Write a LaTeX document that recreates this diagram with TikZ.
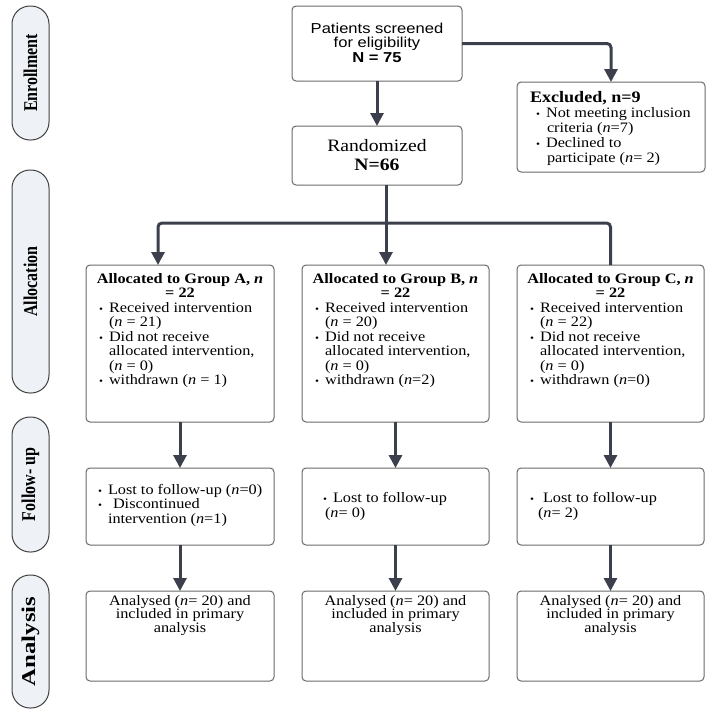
\documentclass[tikz,border=0pt]{standalone}
\usepackage{fontspec}
\setmainfont{Liberation Serif}[FakeStretch=1.13]
\newfontfamily\sansf{Liberation Sans}[FakeStretch=1.15]
\newfontfamily\labf{Liberation Serif}
\usetikzlibrary{arrows.meta}
\definecolor{conn}{HTML}{3B404C}
\definecolor{boxline}{HTML}{6A6A6A}
\definecolor{ovalfill}{HTML}{EEF1F6}
\definecolor{ovalline}{HTML}{404040}
\newcommand\bul{\makebox[10pt][l]{\fontsize{10}{10}\selectfont\textbullet}}
\newcommand\gbox[4]{\parbox[c][#2][t]{#1}{\setlength\parindent{0pt}\setlength\parskip{0pt}\fontsize{14.4}{#3}\selectfont #4}}
\newcommand\lab[2][1]{\scalebox{#1}[1.22]{#2}}
\tikzset{
  box/.style={draw=boxline, line width=1pt, rounded corners=4pt, fill=white, inner sep=0pt, outer sep=0pt},
  oval/.style={draw=ovalline, line width=1pt, fill=ovalfill, rounded corners=18pt, minimum height=37pt, inner sep=0pt, rotate=90, font=\labf\fontsize{16}{16}\selectfont\bfseries},
  conline/.style={draw=conn, line width=3pt},
  arr/.style={conline, -{Triangle[width=13pt,length=13pt]}}
}
\begin{document}
\begin{tikzpicture}[x=1pt,y=-1pt]
\useasboundingbox (0,0) rectangle (713,718);
% phase labels
\node[oval, minimum width=134pt] (ovE) at (30.5,73) {\lab{Enrollment}};
\node[oval, minimum width=223pt] (ovAl) at (30.5,281.5) {\lab{Allocation}};
\node[oval, minimum width=135pt] (ovF) at (30.5,484.5) {\lab{Follow- up}};
\node[oval, minimum width=133pt] (ovAn) at (30.5,641.5) {\lab[1.55]{Analysis}};
% top boxes
\node[box, font=\sansf] (scr) at (377,43.5) {\gbox{170pt}{75pt}{14.5pt}{\centering
\rule{0pt}{27pt}Patients screened\\for eligibility\\\textbf{N = 75}\par}};
\node[box, minimum width=170pt, minimum height=59pt, align=center, font=\fontsize{17.4}{19}\selectfont] (rand) at (377,155.5) {Randomized\\\textbf{N=66}};
\node[box] (exc) at (611,127) {\gbox{188pt}{90pt}{15pt}{\raggedright
\rule{0pt}{20pt}\hspace*{13pt}{\fontsize{16}{15}\selectfont\bfseries Excluded, n=9}\\
\hspace*{19pt}\bul Not meeting inclusion\\
\hspace*{30pt}criteria (\textit{n}=7)\\
\hspace*{19pt}\bul Declined to\\
\hspace*{30pt}participate (\textit{n}= 2)\par}};
% allocation boxes
\node[box] (grpA) at (180,343.5) {\gbox{188pt}{157pt}{14.5pt}{%
{\centering\bfseries\rule{0pt}{18pt}Allocated to Group A, \textit{n}\\= 22\par}%
\raggedright
\hspace*{13pt}\bul Received intervention\\
\hspace*{23pt}(\textit{n} = 21)\\
\hspace*{13pt}\bul Did not receive\\
\hspace*{23pt}allocated intervention,\\
\hspace*{23pt}(\textit{n} = 0)\\
\hspace*{13pt}\bul withdrawn (\textit{n} = 1)\par}};
\node[box] (grpB) at (395.5,343.5) {\gbox{187pt}{157pt}{14.5pt}{%
{\centering\bfseries\rule{0pt}{18pt}Allocated to Group B, \textit{n}\\= 22\par}%
\raggedright
\hspace*{13pt}\bul Received intervention\\
\hspace*{23pt}(\textit{n} = 20)\\
\hspace*{13pt}\bul Did not receive\\
\hspace*{23pt}allocated intervention,\\
\hspace*{23pt}(\textit{n} = 0)\\
\hspace*{13pt}\bul withdrawn (\textit{n}=2)\par}};
\node[box] (grpC) at (610.5,343.5) {\gbox{187pt}{157pt}{14.5pt}{%
{\centering\bfseries\rule{0pt}{18pt}Allocated to Group C, \textit{n}\\= 22\par}%
\raggedright
\hspace*{13pt}\bul Received intervention\\
\hspace*{23pt}(\textit{n} = 22)\\
\hspace*{13pt}\bul Did not receive\\
\hspace*{23pt}allocated intervention,\\
\hspace*{23pt}(\textit{n} = 0)\\
\hspace*{13pt}\bul withdrawn (\textit{n}=0)\par}};
% follow-up boxes
\node[box] (fuA) at (180,506.5) {\gbox{188pt}{77pt}{14.5pt}{\raggedright
\rule{0pt}{26pt}\hspace*{12pt}\bul Lost to follow-up (\textit{n}=0)\\
\hspace*{12pt}\bul\hspace*{5pt}Discontinued\\
\hspace*{22pt}intervention (\textit{n}=1)\par}};
\node[box] (fuB) at (395.5,506.5) {\gbox{187pt}{77pt}{15pt}{\raggedright
\rule{0pt}{34pt}\hspace*{21pt}\bul Lost to follow-up\\
\hspace*{23pt}(\textit{n}= 0)\par}};
\node[box] (fuC) at (610.5,506.5) {\gbox{187pt}{77pt}{15pt}{\raggedright
\rule{0pt}{34pt}\hspace*{13pt}\bul\hspace*{3pt}Lost to follow-up\\
\hspace*{21pt}(\textit{n}= 2)\par}};
% analysis boxes
\node[box] (anA) at (180,636) {\gbox{188pt}{90pt}{13.5pt}{\centering
\rule{0pt}{14pt}Analysed (\textit{n}= 20) and\\included in primary\\analysis\par}};
\node[box] (anB) at (395.5,636) {\gbox{187pt}{90pt}{13.5pt}{\centering
\rule{0pt}{14pt}Analysed (\textit{n}= 20) and\\included in primary\\analysis\par}};
\node[box] (anC) at (610.5,636) {\gbox{187pt}{90pt}{13.5pt}{\centering
\rule{0pt}{14pt}Analysed (\textit{n}= 20) and\\included in primary\\analysis\par}};
% connectors
\draw[arr] (scr) -- (rand);
\draw[arr, rounded corners=4pt] (scr.east) -| (exc.north);
\coordinate (hub) at (386,223);
\coordinate (aj) at (158,223);
\coordinate (cj) at (610.5,223);
\draw[conline] (rand.south -| hub) -- (hub);
\draw[arr] (hub) -- (hub |- grpB.north);
\draw[arr, rounded corners=4pt] (hub) -- (aj) -- (aj |- grpA.north);
\draw[conline, rounded corners=4pt] (hub) -- (cj) -- (grpC.north);
\draw[arr] (grpA) -- (fuA);
\draw[arr] (grpB) -- (fuB);
\draw[arr] (grpC) -- (fuC);
\draw[arr] (fuA) -- (anA);
\draw[arr] (fuB) -- (anB);
\draw[arr] (fuC) -- (anC);
\end{tikzpicture}
\end{document}
